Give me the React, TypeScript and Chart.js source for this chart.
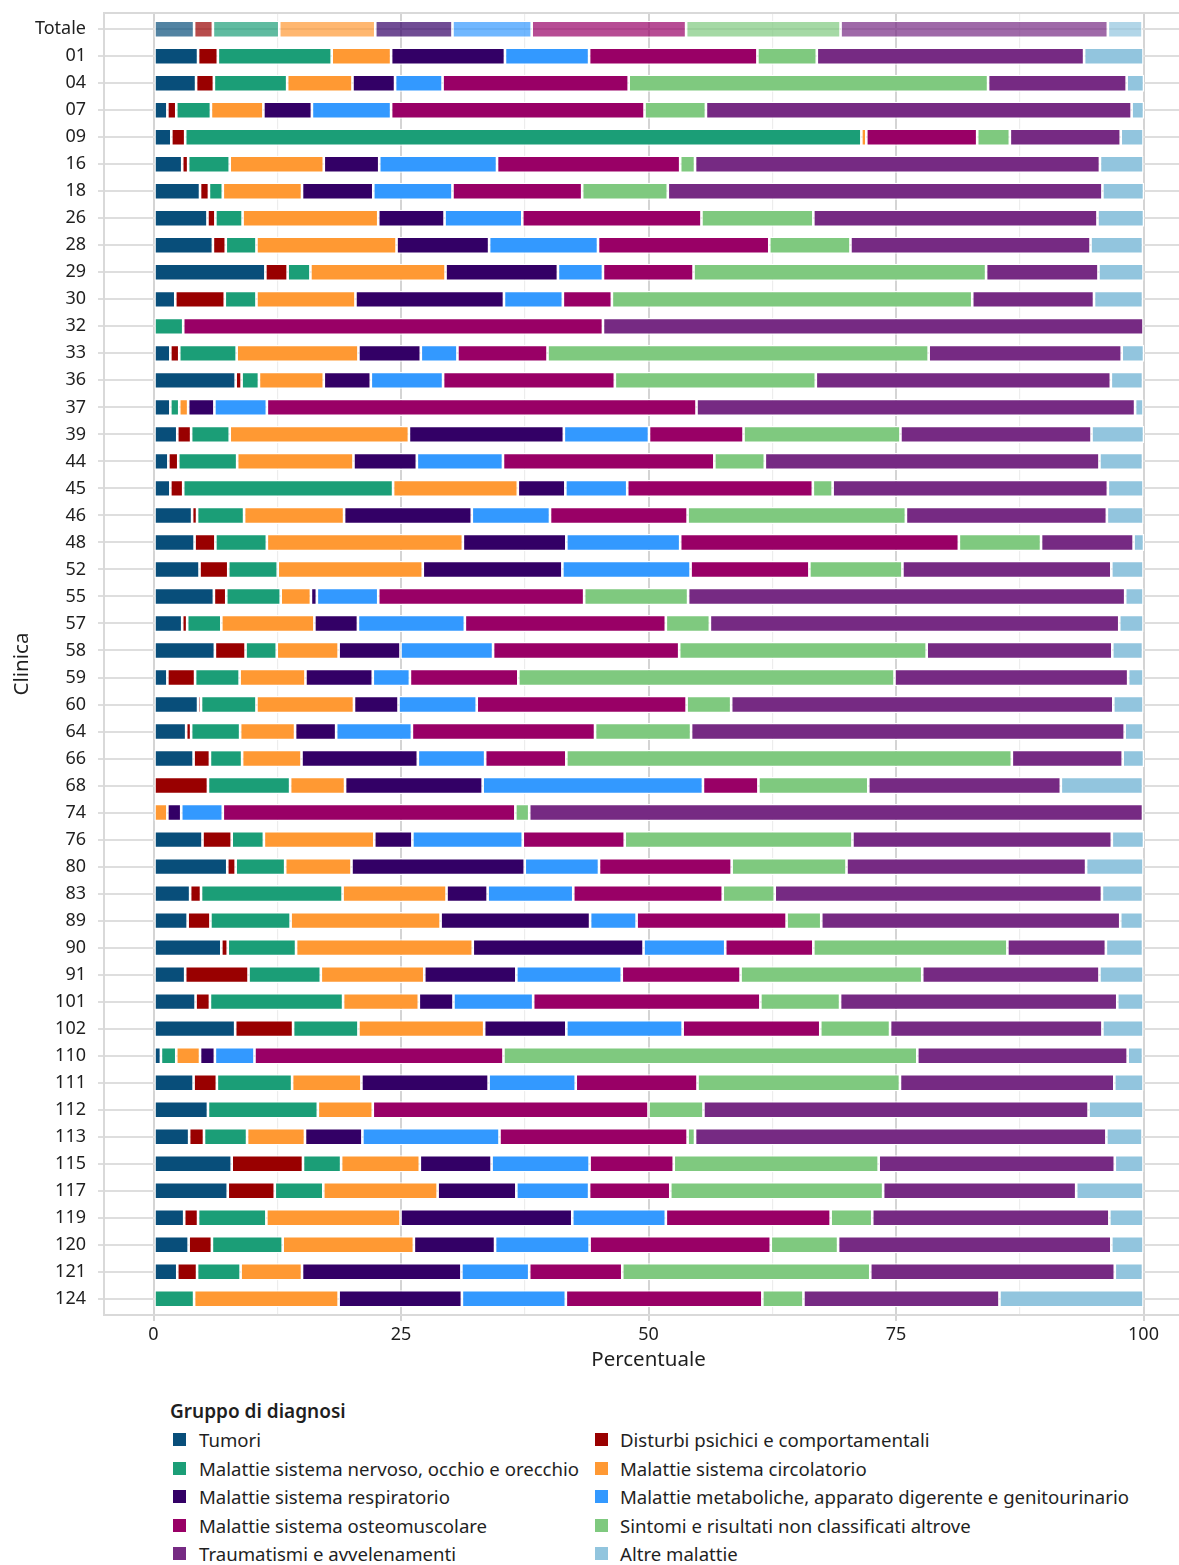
import React, { useEffect, useRef } from 'react';
import { Chart, registerables } from 'chart.js';

Chart.register(...registerables);

const clinics = ['Totale','01','04','07','09','16','18','26','28','29','30','32','33','36','37','39','44','45','46','48','52','55','57','58','59','60','64','66','68','74','76','80','83','89','90','91','101','102','110','111','112','113','115','117','119','120','121','124'];

const categories = [
  'Tumori',
  'Disturbi psichici e comportamentali',
  'Malattie sistema nervoso, occhio e orecchio',
  'Malattie sistema circolatorio',
  'Malattie sistema respiratorio',
  'Malattie metaboliche, apparato digerente e genitourinario',
  'Malattie sistema osteomuscolare',
  'Sintomi e risultati non classificati altrove',
  'Traumatismi e avvelenamenti',
  'Altre malattie',
];

const colors = ['#084e7a', '#990000', '#1b9e77', '#ff9933', '#330066', '#3399ff', '#990066', '#7fc97f', '#762a83', '#92c5de'];

const tumori = [4.1,4.5,4.3,1.4,1.8,2.9,4.7,5.45,6.0,11.3,2.2,0,1.7,8.3,1.7,2.4,1.5,1.7,3.9,4.15,4.65,6.1,2.9,6.2,1.4,4.5,3.3,4.05,0,0,4.95,7.45,3.7,3.45,6.85,3.2,4.25,8.25,0.75,4.05,5.5,3.6,7.9,7.5,3.1,3.55,2.4,0];
const disturbi = [1.9,2.0,1.8,0.9,1.4,0.6,0.9,0.8,1.3,2.25,5.0,0,0.9,0.6,0,1.4,1.0,1.3,0.5,2.1,2.9,1.25,0.5,3.1,2.8,0.3,0.5,1.65,5.5,0,2.95,0.85,1.1,2.3,0.65,6.4,1.45,5.85,0,2.35,0,1.5,7.2,4.75,1.4,2.35,2.0,0];
const nervoso = [6.7,11.5,7.4,3.5,68.3,4.2,1.4,2.75,3.1,2.3,3.2,3.0,5.8,1.75,0.9,3.9,5.95,21.2,4.75,5.2,5.0,5.5,3.45,3.15,4.5,5.6,4.95,3.25,8.3,0,3.25,5.0,14.3,8.1,6.9,7.3,13.45,6.6,1.55,7.6,11.1,4.35,3.85,4.9,6.9,7.15,4.4,4.1];
const circolatorio = [9.7,6.0,6.6,5.3,0.5,9.5,8.0,13.7,14.15,13.65,10.0,0,12.3,6.55,0.9,18.1,11.75,12.6,10.1,19.8,14.65,3.05,9.4,6.25,6.65,9.85,5.55,6.0,5.55,1.4,11.15,6.7,10.5,15.15,17.85,10.45,7.65,12.7,2.4,7.0,5.55,5.85,7.95,11.55,13.55,13.25,6.2,14.6];
const respiratorio = [7.8,11.5,4.3,4.9,0,5.6,7.2,6.7,9.35,11.35,15.0,0,6.3,4.75,2.65,15.65,6.4,4.8,12.9,10.45,14.1,0.6,4.4,6.25,6.8,4.5,4.15,11.75,13.9,1.4,3.85,17.5,4.15,15.1,17.25,9.3,3.5,8.3,1.5,12.85,0,5.8,7.25,7.95,17.35,8.2,16.1,12.45];
const metaboliche = [8.0,8.5,4.8,8.0,0,11.9,8.0,7.85,11.0,4.55,5.95,0,3.7,7.3,5.3,8.6,8.7,6.25,7.9,11.5,12.95,6.2,10.8,9.35,3.75,7.9,7.65,6.8,22.25,4.2,11.15,7.5,8.65,4.7,8.25,10.65,8.05,11.75,4.0,8.8,0,13.85,9.9,7.35,9.45,9.55,6.85,10.5];
const osteomuscolare = [15.6,17.0,18.8,25.6,11.2,18.5,13.1,18.1,17.3,9.15,4.95,42.4,9.1,17.35,43.4,9.55,21.35,18.75,13.9,28.15,12.0,20.8,20.3,18.8,10.95,21.2,18.5,8.2,5.6,29.55,10.3,13.4,15.1,15.15,8.9,12.0,22.95,13.9,25.15,12.3,27.85,19.0,8.5,8.2,16.65,18.3,9.4,19.85];
const sintomi = [15.6,6.0,36.3,6.2,3.3,1.5,8.65,11.3,8.2,29.55,36.4,0,38.5,20.3,0,15.85,5.1,2.0,22.05,8.3,9.4,10.5,4.45,25.0,38.0,4.5,9.7,45.0,11.1,1.4,23.0,11.6,5.25,3.5,19.6,18.35,8.05,7.05,41.8,20.45,5.55,0.75,20.7,21.5,4.2,6.8,25.05,4.15];
const traumatismi = [27.0,27.0,14.0,43.0,11.2,40.9,43.9,28.7,24.25,11.35,12.3,54.6,19.5,29.8,44.3,19.3,33.8,27.8,20.3,9.35,21.1,44.15,41.35,18.75,23.6,38.6,43.8,11.2,19.45,62.0,26.2,24.2,33.05,30.2,9.95,17.9,28.0,21.45,21.25,21.65,38.9,41.55,23.85,19.5,23.95,27.6,24.7,19.8];
const altre = [3.5,6.0,1.75,1.25,2.3,4.4,4.2,4.7,5.3,4.55,4.95,0,2.25,3.25,0.85,5.3,4.4,3.6,3.7,1.05,3.25,1.85,2.45,3.1,1.55,3.05,1.9,2.15,8.3,0,3.25,5.8,4.15,2.3,3.75,4.45,2.65,4.15,1.55,2.95,5.55,3.65,2.9,6.8,3.45,3.25,2.85,14.55];

const seriesValues = [tumori, disturbi, nervoso, circolatorio, respiratorio, metaboliche, osteomuscolare, sintomi, traumatismi, altre];

const FONT = "'Noto Sans', 'DejaVu Sans', sans-serif";
const TEXT = '#1f1f1f';

const framePlugin = {
  id: 'panelFrame',
  afterDraw(chart: any) {
    const { ctx, chartArea: a, width } = chart;
    ctx.save();
    ctx.strokeStyle = '#d9d9d9';
    ctx.lineWidth = 2;
    ctx.beginPath();
    ctx.moveTo(width, a.top);
    ctx.lineTo(a.left, a.top);
    ctx.lineTo(a.left, a.bottom);
    ctx.lineTo(width, a.bottom);
    ctx.stroke();
    ctx.restore();
  },
};

const isMajor = (c: any) => c && c.tick && Math.abs(c.tick.value % 25) < 1e-9;

export default function App() {
  const ref = useRef<HTMLCanvasElement>(null);

  useEffect(() => {
    const canvas = ref.current;
    if (!canvas) return;
    const chart = new Chart(canvas, {
      type: 'bar',
      data: {
        datasets: categories.map((name, k) => ({
          label: name,
          data: seriesValues[k].map((v, i) => ({ x: v, y: i })),
          backgroundColor: (c: any) => (c.dataIndex === 0 ? colors[k] + 'b3' : colors[k]),
          borderColor: '#ffffff',
          borderWidth: 1.3,
          borderSkipped: false,
          barThickness: 17,
          inflateAmount: 0,
        })),
      },
      options: {
        indexAxis: 'y',
        animation: false,
        responsive: false,
        devicePixelRatio: 1,
        layout: { padding: { top: 13, right: 37, left: 0, bottom: 0 } },
        plugins: { legend: { display: false }, tooltip: { enabled: false } },
        scales: {
          x: {
            type: 'linear',
            stacked: true,
            min: -5,
            max: 105,
            offset: false,
            afterFit: (s: any) => {
              s.height = 65;
              s.paddingLeft = 0;
              s.paddingRight = 0;
            },
            ticks: {
              stepSize: 12.5,
              includeBounds: false,
              maxTicksLimit: 100,
              autoSkip: false,
              maxRotation: 0,
              padding: 3,
              color: TEXT,
              font: { family: FONT, size: 18 },
              callback: (v: any) => (Math.abs(v % 25) < 1e-9 ? String(v) : ''),
            },
            grid: {
              offset: false,
              color: (c: any) => (isMajor(c) ? '#d4d4d4' : '#ededed'),
              lineWidth: (c: any) => (isMajor(c) ? 2 : 1.2),
              tickLength: 6,
              tickWidth: 2,
              tickColor: (c: any) => (isMajor(c) ? '#d4d4d4' : 'rgba(0,0,0,0)'),
            },
            border: { display: false },
            title: {
              display: true,
              text: 'Percentuale',
              color: TEXT,
              font: { family: FONT, size: 20.5 },
              padding: { top: 0, bottom: 8 },
            },
          },
          y: {
            type: 'linear',
            stacked: true,
            reverse: true,
            min: -0.6,
            max: 47.6,
            offset: false,
            afterFit: (s: any) => {
              s.width = 104;
              s.paddingTop = 0;
              s.paddingBottom = 0;
            },
            ticks: {
              stepSize: 1,
              includeBounds: false,
              maxTicksLimit: 100,
              autoSkip: false,
              padding: 12,
              color: TEXT,
              font: { family: FONT, size: 18 },
              callback: (v: any) => (clinics[v] !== undefined ? clinics[v] : ''),
            },
            grid: {
              offset: false,
              color: '#dedede',
              lineWidth: 2,
              tickLength: 6,
              tickWidth: 2,
              tickColor: '#dedede',
            },
            border: { display: false },
            title: {
              display: true,
              text: 'Clinica',
              color: TEXT,
              font: { family: FONT, size: 20.5 },
              padding: { top: 10, bottom: 0 },
            },
          },
        },
      },
      plugins: [framePlugin],
    } as any);
    return () => chart.destroy();
  }, []);

  const rowCenter = (r: number) => 1440 + r * 28.5;

  return (
    <div
      style={{
        position: 'absolute',
        left: 0,
        top: 0,
        width: 1179,
        height: 1565,
        overflow: 'hidden',
        background: '#ffffff',
        fontFamily: FONT,
        color: TEXT,
      }}
    >
      <canvas ref={ref} width={1230} height={1380} style={{ position: 'absolute', left: 0, top: 0, width: 1230, height: 1380 }} />
      <div style={{ position: 'absolute', left: 170, top: 1411 - 12, height: 24, lineHeight: '24px', fontSize: 19, fontWeight: 600, whiteSpace: 'nowrap' }}>
        Gruppo di diagnosi
      </div>
      {categories.map((name, k) => {
        const col = k % 2;
        const row = Math.floor(k / 2);
        const cy = rowCenter(row);
        const markerLeft = col === 0 ? 173 : 595;
        const textLeft = col === 0 ? 199 : 620;
        return (
          <React.Fragment key={name}>
            <div
              style={{
                position: 'absolute',
                left: markerLeft,
                top: cy - 7,
                width: 13,
                height: 13,
                background: colors[k],
              }}
            />
            <div
              style={{
                position: 'absolute',
                left: textLeft,
                top: cy - 12,
                height: 24,
                lineHeight: '24px',
                fontSize: 18.6,
                whiteSpace: 'nowrap',
              }}
            >
              {name}
            </div>
          </React.Fragment>
        );
      })}
    </div>
  );
}
